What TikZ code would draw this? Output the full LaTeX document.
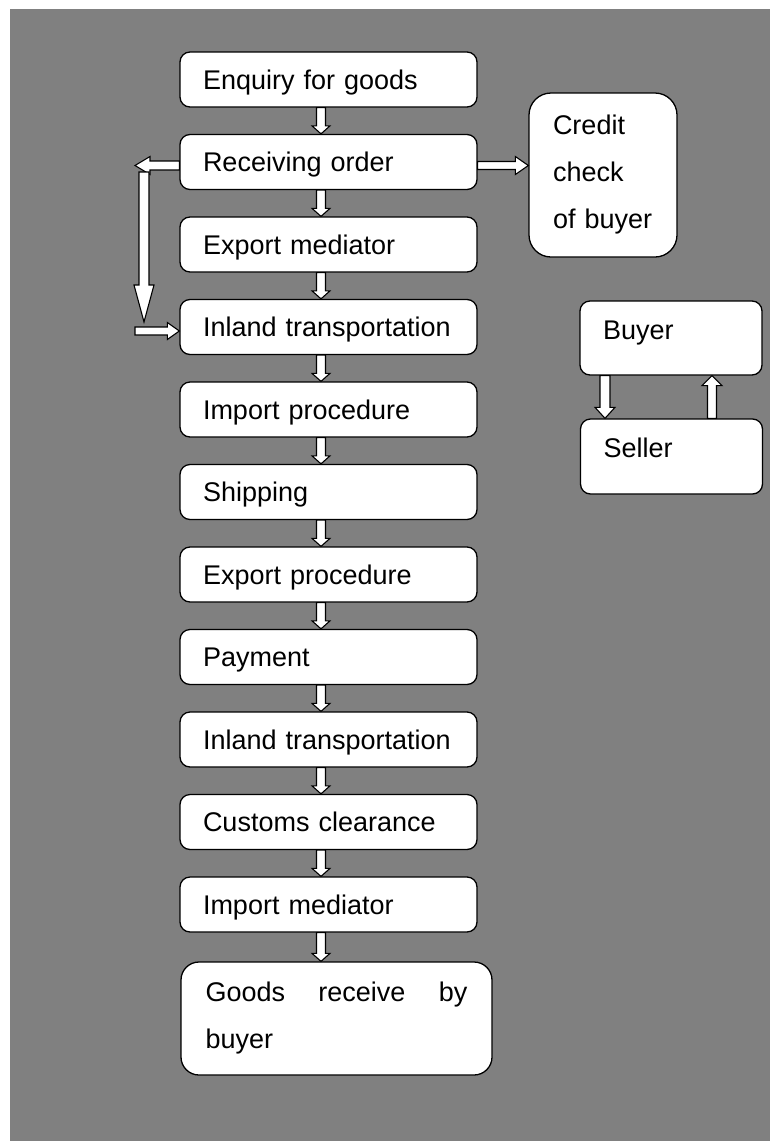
\documentclass[tikz,border=0pt]{standalone}
\usepackage{fontspec}
\setmainfont{Liberation Sans}
\usetikzlibrary{calc}
\definecolor{bgc}{RGB}{128,128,128}
\hyphenpenalty=10000

% hollow block arrow: start, end, shaft half width, head half width, head length
\newcommand\blockarrow[5]{%
  \coordinate (s) at #1;
  \coordinate (e) at #2;
  \coordinate (h) at ($(e)!#5!(s)$);
  \draw[barrow] ($(s)!#3!90:(e)$) -- ($(h)!#3!-90:(s)$) -- ($(h)!#4!-90:(s)$)
    -- (e) -- ($(h)!#4!90:(s)$) -- ($(h)!#3!90:(s)$) -- ($(s)!#3!-90:(e)$) -- cycle;
}

\tikzset{
  txt/.style={font=\fontsize{27}{47}\selectfont},
  box/.style={txt, draw=black, fill=white, line width=1.3pt, rounded corners=10pt,
    minimum width=297pt, minimum height=55pt, text width=251pt, inner xsep=23pt,
    align=left, text height=19pt, text depth=0pt},
  sidebox/.style={txt, draw=black, fill=white, line width=1.3pt, rounded corners=10pt,
    text width=136pt, inner xsep=23pt, align=left, text height=19pt, text depth=17pt},
  barrow/.style={draw=black, fill=white, line width=1.1pt, line join=miter},
}

\begin{document}
\begin{tikzpicture}[x=1pt, y=-1pt]
\useasboundingbox (0,0) rectangle (770,1141);
\fill[bgc] (10,9) rectangle (770,1141);

% main chain
\node[box] (b1)  at (328.5,79.5)  {Enquiry for goods};
\node[box] (b2)  at (328.5,162)   {Receiving order};
\node[box] (b3)  at (328.5,244.5) {Export mediator};
\node[box] (b4)  at (328.5,327)   {Inland transportation};
\node[box] (b5)  at (328.5,409.5) {Import procedure};
\node[box] (b6)  at (328.5,492)   {Shipping};
\node[box] (b7)  at (328.5,574.5) {Export procedure};
\node[box] (b8)  at (328.5,657)   {Payment};
\node[box] (b9)  at (328.5,739.5) {Inland transportation};
\node[box] (b10) at (328.5,822)   {Customs clearance};
\node[box] (b11) at (328.5,904.5) {Import mediator};
\node[txt, draw=black, fill=white, line width=1.3pt, rounded corners=18pt,
  minimum width=311pt, minimum height=113pt, text width=262pt, inner xsep=24.5pt,
  align=justify] (b12) at (336.5,1018.5) {Goods receive by buyer};

% side boxes
\node[txt, draw=black, fill=white, line width=1.3pt, rounded corners=22pt,
  minimum width=148pt, minimum height=164pt, text width=100pt, inner xsep=24pt,
  align=left] (credit) at (603,175) {Credit\\check\\of buyer};
\node[sidebox, minimum width=182pt, minimum height=74pt] (buyer)  at (671,338)   {Buyer};
\node[sidebox, minimum width=181pt, minimum height=75pt] (seller) at (671.5,456.5) {Seller};

% connectors along the chain
\coordinate (ax) at (321,0);
\foreach \a/\b in {b1/b2,b2/b3,b3/b4,b4/b5,b5/b6,b6/b7,b7/b8,b8/b9,b9/b10,b10/b11,b11/b12}{
  \blockarrow{(\a.south -| ax)}{(\b.north -| ax)}{4.5pt}{9pt}{8pt}
}

% order to credit check
\coordinate (r1) at ([yshift=-3.5pt]b2.east);
\blockarrow{(r1)}{(r1 -| credit.west)}{4pt}{9pt}{13pt}

% bypass on the left
\coordinate (l1) at ([yshift=-3.5pt]b2.west);
\coordinate (lt) at (135,165.5);
\blockarrow{(l1)}{(lt)}{4.5pt}{9pt}{15pt}
\coordinate (vtop) at (144,172);
\coordinate (vbot) at (144,322);
\blockarrow{(vtop)}{(vbot)}{5pt}{10pt}{37pt}
\coordinate (rs) at (135,331);
\blockarrow{(rs)}{(rs -| b4.west)}{4pt}{8.5pt}{12pt}

% buyer / seller exchange
\coordinate (bx1) at (605,0);
\coordinate (bx2) at (712,0);
\blockarrow{(buyer.south -| bx1)}{(seller.north -| bx1)}{5pt}{10pt}{11pt}
\blockarrow{(seller.north -| bx2)}{(buyer.south -| bx2)}{4.5pt}{10pt}{10pt}
\end{tikzpicture}
\end{document}
